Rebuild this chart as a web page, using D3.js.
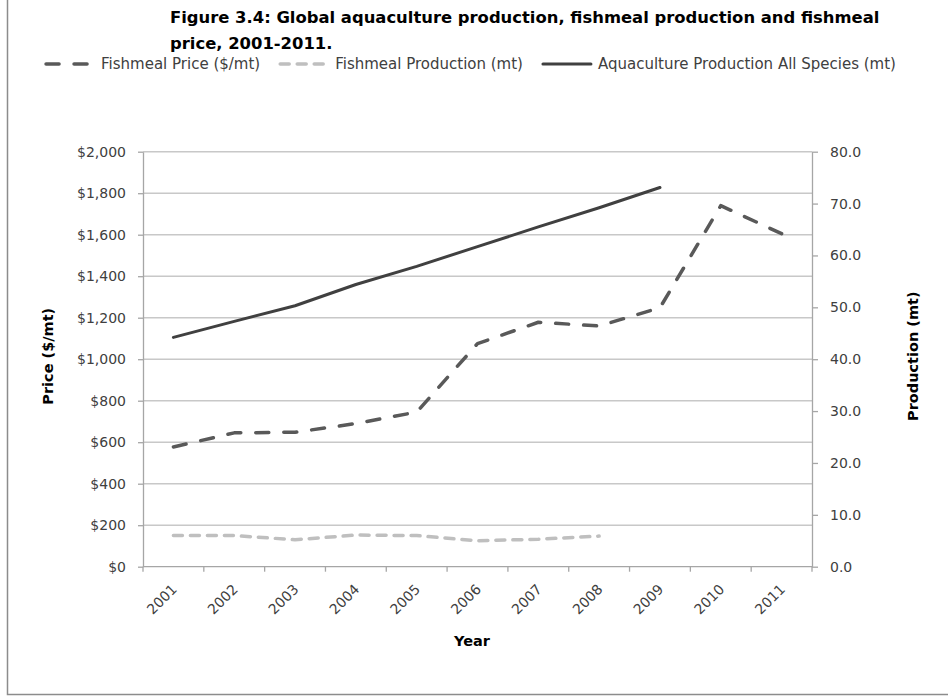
<!DOCTYPE html>
<html>
<head>
<meta charset="utf-8">
<script src="https://cdn.jsdelivr.net/npm/d3@7"></script>
<style>
  body { margin: 0; background: #fff; }
  svg { display: block; font-family: 'DejaVu Sans', 'Liberation Sans', Arial, sans-serif; }
</style>
</head>
<body>
<svg id="chart" width="948" height="696"></svg>
<script>

// data
var years = ['2001', '2002', '2003', '2004', '2005', '2006', '2007', '2008', '2009', '2010', '2011'];
var fishmealPrice = [577, 645, 648, 690, 745, 1075, 1178, 1160, 1248, 1740, 1605];          // $/mt, 2001-2011
var fishmealProduction = [6.0, 6.0, 5.2, 6.1, 6.0, 5.0, 5.3, 5.9];                          // mt, 2001-2008
var aquacultureProduction = [44.2, 47.3, 50.3, 54.4, 57.9, 61.7, 65.5, 69.2, 73.1];         // mt, 2001-2009
var priceTicks = [0, 200, 400, 600, 800, 1000, 1200, 1400, 1600, 1800, 2000];
var productionTicks = [0, 10, 20, 30, 40, 50, 60, 70, 80];

var titleLines = ['Figure 3.4: Global aquaculture production, fishmeal production and fishmeal',
                  'price, 2001-2011.'];

var _svg = d3.select('#chart');
var _plot = { left: 143, right: 812, top: 151.7, bottom: 566.7 };
var _labelColor = '#404040';
var _gridColor = '#c8c8c8';
var _axisColor = '#a6a6a6';

var x = d3.scaleBand().domain(years).range([_plot.left, _plot.right]);
var yPrice = d3.scaleLinear().domain([0, 2000]).range([_plot.bottom, _plot.top]);
var yProd = d3.scaleLinear().domain([0, 80]).range([_plot.bottom, _plot.top]);

var styles = {
    price: { stroke: '#595959', width: 3.5, dash: '13,15', cap: 'round' },
    production: { stroke: '#bfbfbf', width: 3.5, dash: '9,8', cap: 'round' },
    aqua: { stroke: '#404040', width: 3, dash: null, cap: 'round' }
};

//---------------------------------------------------------------------------------------
// FRAME + TITLE
//---------------------------------------------------------------------------------------

_svg.append('rect')
    .attr('x', 7.5).attr('y', -10)
    .attr('width', 980).attr('height', 704.5)
    .style('fill', 'none')
    .style('stroke', '#8c8c8c')
    .style('stroke-width', 1.5);

_svg.selectAll('.title')
    .data(titleLines)
  .enter().append('text')
    .attr('class', 'title')
    .attr('x', 170)
    .attr('y', function (d, i) { return 23 + i * 26; })
    .style('font-weight', 'bold')
    .style('font-size', '16.4px')
    .style('fill', '#000')
    .text(function (d) { return d; });

//---------------------------------------------------------------------------------------
// GRID + AXES
//---------------------------------------------------------------------------------------

_svg.selectAll('.grid')
    .data(priceTicks.slice(1))
  .enter().append('line')
    .attr('class', 'grid')
    .attr('x1', _plot.left).attr('x2', _plot.right)
    .attr('y1', function (d) { return yPrice(d); })
    .attr('y2', function (d) { return yPrice(d); })
    .style('stroke', _gridColor)
    .style('stroke-width', 1.5);

var leftAxis = _svg.append('g')
    .attr('transform', 'translate(' + _plot.left + ',0)')
    .call(d3.axisLeft(yPrice)
        .tickValues(priceTicks)
        .tickSizeInner(5).tickSizeOuter(0).tickPadding(12)
        .tickFormat(function (d) { return '$' + d3.format(',')(d); }));

var rightAxis = _svg.append('g')
    .attr('transform', 'translate(' + _plot.right + ',0)')
    .call(d3.axisRight(yProd)
        .tickValues(productionTicks)
        .tickSizeInner(6).tickSizeOuter(0).tickPadding(12)
        .tickFormat(d3.format('.1f')));

[leftAxis, rightAxis].forEach(function (ax) {
    ax.select('.domain').style('stroke', _axisColor).style('stroke-width', 1.3);
    ax.selectAll('.tick line').style('stroke', _axisColor).style('stroke-width', 1.3);
    ax.selectAll('.tick text')
        .style('font-family', "'DejaVu Sans', sans-serif")
        .style('font-size', '14px')
        .style('fill', _labelColor);
});

// category axis: Excel puts the ticks between the categories
var xAxis = _svg.append('g').attr('class', 'x-axis');

xAxis.append('line')
    .attr('x1', _plot.left).attr('x2', _plot.right)
    .attr('y1', _plot.bottom).attr('y2', _plot.bottom)
    .style('stroke', _axisColor)
    .style('stroke-width', 1.3);

xAxis.selectAll('.x-tick')
    .data(years.map(function (d) { return x(d); }).concat([x.range()[1]]))
  .enter().append('line')
    .attr('class', 'x-tick')
    .attr('x1', function (d) { return d; }).attr('x2', function (d) { return d; })
    .attr('y1', _plot.bottom).attr('y2', _plot.bottom + 5)
    .style('stroke', _axisColor)
    .style('stroke-width', 1.3);

xAxis.selectAll('.x-label')
    .data(years)
  .enter().append('text')
    .attr('class', 'x-label')
    .attr('transform', function (d) {
        return 'translate(' + (x(d) + x.bandwidth() / 2 + 1) + ',' + (_plot.bottom + 20) + ') rotate(-45)';
    })
    .attr('dy', '0.35em')
    .style('text-anchor', 'end')
    .style('font-size', '14px')
    .style('fill', _labelColor)
    .text(function (d) { return d; });

// axis titles
var _midY = (_plot.top + _plot.bottom) / 2 - 3;

_svg.append('text')
    .attr('transform', 'translate(48,' + _midY + ') rotate(-90)')
    .attr('dy', '0.35em')
    .style('text-anchor', 'middle')
    .style('font-weight', 'bold')
    .style('font-size', '14.5px')
    .text('Price ($/mt)');

_svg.append('text')
    .attr('transform', 'translate(913,' + _midY + ') rotate(-90)')
    .attr('dy', '0.35em')
    .style('text-anchor', 'middle')
    .style('font-weight', 'bold')
    .style('font-size', '14.5px')
    .text('Production (mt)');

_svg.append('text')
    .attr('x', 472)
    .attr('y', 641)
    .attr('dy', '0.35em')
    .style('text-anchor', 'middle')
    .style('font-weight', 'bold')
    .style('font-size', '14.5px')
    .text('Year');

//---------------------------------------------------------------------------------------
// LINES
//---------------------------------------------------------------------------------------

var series = [
    { key: 'aqua', values: aquacultureProduction, y: yProd },
    { key: 'price', values: fishmealPrice, y: yPrice },
    { key: 'production', values: fishmealProduction, y: yProd }
];

series.forEach(function (s) {
    var st = styles[s.key];
    var line = d3.line()
        .x(function (d, i) { return x(years[i]) + x.bandwidth() / 2; })
        .y(function (d) { return s.y(d); });

    _svg.append('path')
        .datum(s.values)
        .attr('class', 'line ' + s.key)
        .attr('d', line)
        .style('fill', 'none')
        .style('stroke', st.stroke)
        .style('stroke-width', st.width)
        .style('stroke-linecap', st.cap)
        .style('stroke-linejoin', 'round')
        .style('stroke-dasharray', st.dash);
});

//---------------------------------------------------------------------------------------
// LEGEND
//---------------------------------------------------------------------------------------

var legendItems = [
    { key: 'price', label: 'Fishmeal Price ($/mt)' },
    { key: 'production', label: 'Fishmeal Production (mt)' },
    { key: 'aqua', label: 'Aquaculture Production All Species (mt)' }
];
var _legendY = 64;
var _sampleWidth = 50;
var _legendGap = 18;
var _legend = _svg.append('g').attr('class', 'legend');
var cursor = 0;

legendItems.forEach(function (item, i) {
    var st = styles[item.key];
    _legend.append('line')
        .attr('x1', cursor + 2).attr('x2', cursor + _sampleWidth)
        .attr('y1', _legendY).attr('y2', _legendY)
        .style('stroke', st.stroke)
        .style('stroke-width', st.width)
        .style('stroke-linecap', st.cap)
        .style('stroke-dasharray', st.dash);
    var t = _legend.append('text')
        .attr('x', cursor + _sampleWidth + 7)
        .attr('y', _legendY)
        .attr('dy', '0.35em')
        .style('font-size', '15px')
        .style('fill', _labelColor)
        .text(item.label);
    cursor += _sampleWidth + 7 + t.node().getComputedTextLength() + _legendGap;
});

var legendWidth = cursor - _legendGap;
_legend.attr('transform', 'translate(' + (470 - legendWidth / 2) + ',0)');

</script>
</body>
</html>
